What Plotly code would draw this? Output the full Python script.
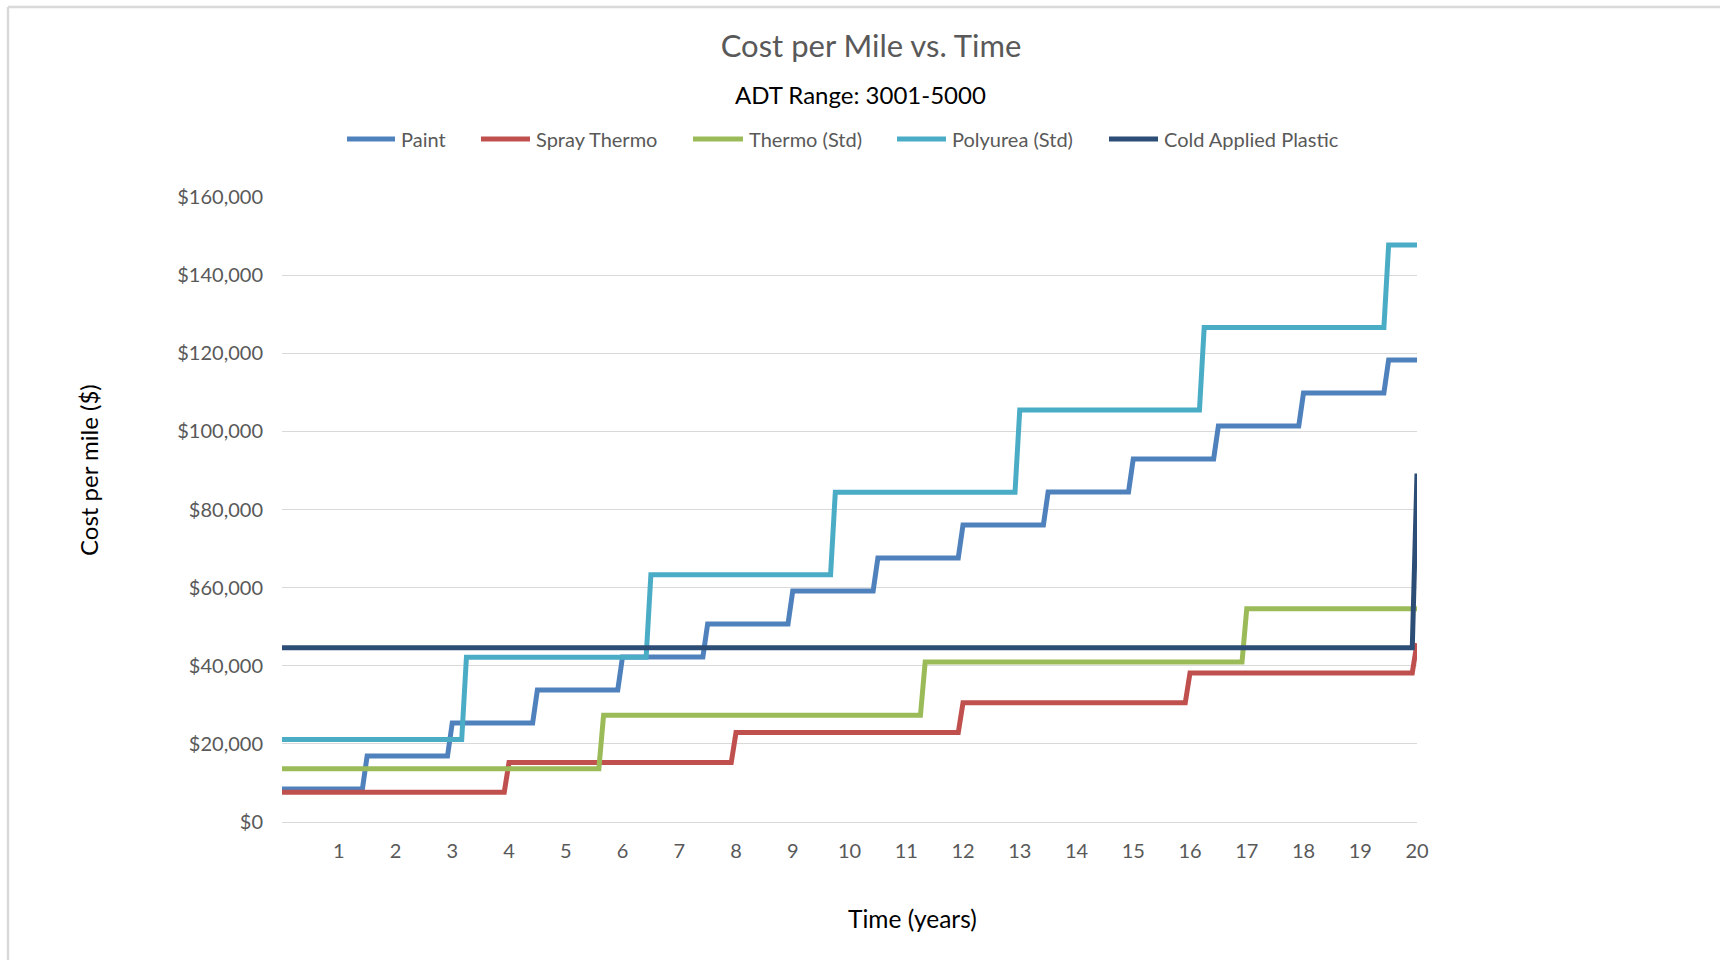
import plotly.graph_objects as go

# ---- data: cost per mile (USD) for each marking type, read as step levels ----
series_names = ["Paint", "Spray Thermo", "Thermo (Std)", "Polyurea (Std)", "Cold Applied Plastic"]

paint_levels = [8450, 16900, 25350, 33800, 42250, 50700, 59150, 67600, 76050,
                84500, 92950, 101400, 109850, 118300]
paint_change_years = [1.5, 3.0, 4.5, 6.0, 7.5, 9.0, 10.5, 12.0, 13.5, 15.0, 16.5, 18.0, 19.5]

spray_levels = [7630, 15260, 22890, 30520, 38150, 45780]
spray_change_years = [4.0, 8.0, 12.0, 16.0, 20.0]

thermo_levels = [13650, 27300, 40950, 54600]
thermo_change_years = [68 / 12, 136 / 12, 204 / 12]

polyurea_levels = [21100, 42200, 63300, 84400, 105500, 126600, 147700]
polyurea_change_years = [3.25, 6.5, 9.75, 13.0, 16.25, 19.5]

cold_levels = [44600, 89200]
cold_change_years = [20.0]

x_tick_values = list(range(1, 21))
y_tick_values = [0, 20000, 40000, 60000, 80000, 100000, 120000, 140000, 160000]
y_tick_labels = ["$0", "$20,000", "$40,000", "$60,000", "$80,000",
                 "$100,000", "$120,000", "$140,000", "$160,000"]

colors = ["#4F81BD", "#C0504D", "#9BBB59", "#4BACC6", "#2C4D75"]

START_YEAR, END_YEAR = 0.0, 20.0
RAMP = 1 / 12  # each re-application shows up over one monthly sample


def step_path(levels, change_years):
    xs, ys = [START_YEAR], [levels[0]]
    for t, new in zip(change_years, levels[1:]):
        xs += [t - RAMP, t]
        ys += [ys[-1], new]
    if xs[-1] < END_YEAR:
        xs.append(END_YEAR)
        ys.append(ys[-1])
    return xs, ys


all_levels = [paint_levels, spray_levels, thermo_levels, polyurea_levels, cold_levels]
all_changes = [paint_change_years, spray_change_years, thermo_change_years,
               polyurea_change_years, cold_change_years]

FONT = "Lato, 'Open Sans', sans-serif"
GREY = "#595959"

W, H = 1720, 960
ML, MR, MT, MB = 282, 303, 197, 138
PW, PH = W - ML - MR, H - MT - MB


def px_x(px):
    return (px - ML) / PW


def px_y(py):
    return 1 - (py - MT) / PH


fig = go.Figure()
for name, lv, ch, col in zip(series_names, all_levels, all_changes, colors):
    xs, ys = step_path(lv, ch)
    fig.add_trace(go.Scatter(
        x=xs, y=ys, mode="lines", name=name, showlegend=False,
        line=dict(color=col, width=5),
    ))

fig.update_layout(
    width=W, height=H,
    margin=dict(l=ML, r=MR, t=MT, b=MB),
    paper_bgcolor="white", plot_bgcolor="white",
    font=dict(family=FONT, color=GREY),
    title=dict(
        text="Cost per Mile vs. Time",
        x=px_x(871), xref="paper", xanchor="center",
        y=1 - 46 / H, yref="container", yanchor="middle",
        font=dict(size=31, color=GREY, family=FONT),
    ),
)

fig.update_xaxes(
    range=[START_YEAR, END_YEAR],
    tickmode="array", tickvals=x_tick_values,
    ticktext=[str(v) for v in x_tick_values],
    showgrid=False, zeroline=False, showline=False,
    ticks="outside", ticklen=11, tickcolor="rgba(0,0,0,0)",
    tickfont=dict(size=20, color=GREY, family=FONT),
)
fig.update_yaxes(
    range=[0, 160000],
    tickmode="array", tickvals=y_tick_values, ticktext=y_tick_labels,
    showgrid=True, gridcolor="#D9D9D9", gridwidth=1.4,
    zeroline=True, zerolinecolor="#D9D9D9", zerolinewidth=1.4,
    showline=False,
    ticks="outside", ticklen=14, tickcolor="rgba(0,0,0,0)",
    tickfont=dict(size=20, color=GREY, family=FONT),
)

# legend row: a line sample in the series colour followed by its name
legend_line_x = [(347, 395), (481, 530), (693, 743), (897, 946), (1109, 1158)]
LEGEND_Y = 139
for name, col, (x0, x1) in zip(series_names, colors, legend_line_x):
    fig.add_shape(type="line", xref="paper", yref="paper",
                  x0=px_x(x0), x1=px_x(x1), y0=px_y(LEGEND_Y), y1=px_y(LEGEND_Y),
                  line=dict(color=col, width=5))
    fig.add_annotation(text=name, xref="paper", yref="paper",
                       x=px_x(x1 + 4), y=px_y(LEGEND_Y), xanchor="left", yanchor="middle",
                       showarrow=False, font=dict(size=20, color=GREY, family=FONT))

fig.add_annotation(
    text="ADT Range: 3001-5000", xref="paper", yref="paper",
    x=px_x(860), y=px_y(95), xanchor="center", yanchor="middle",
    showarrow=False, font=dict(size=24, color="#000000", family=FONT),
)
fig.add_annotation(
    text="Time (years)", xref="paper", yref="paper",
    x=px_x(912), y=px_y(918), xanchor="center", yanchor="middle",
    showarrow=False, font=dict(size=24.5, color="#000000", family=FONT),
)
fig.add_annotation(
    text="Cost per mile ($)", xref="paper", yref="paper",
    x=px_x(88), y=px_y(470), xanchor="center", yanchor="middle",
    textangle=-90, showarrow=False,
    font=dict(size=24, color="#000000", family=FONT),
)

# chart frame (top and left edges)
fig.add_shape(type="line", xref="paper", yref="paper",
              x0=px_x(8), x1=px_x(W + 5), y0=px_y(7), y1=px_y(7),
              line=dict(color="#D9D9D9", width=2.5))
fig.add_shape(type="line", xref="paper", yref="paper",
              x0=px_x(8), x1=px_x(8), y0=px_y(7), y1=px_y(H + 5),
              line=dict(color="#D9D9D9", width=2.5))

fig.write_html("out.html")
